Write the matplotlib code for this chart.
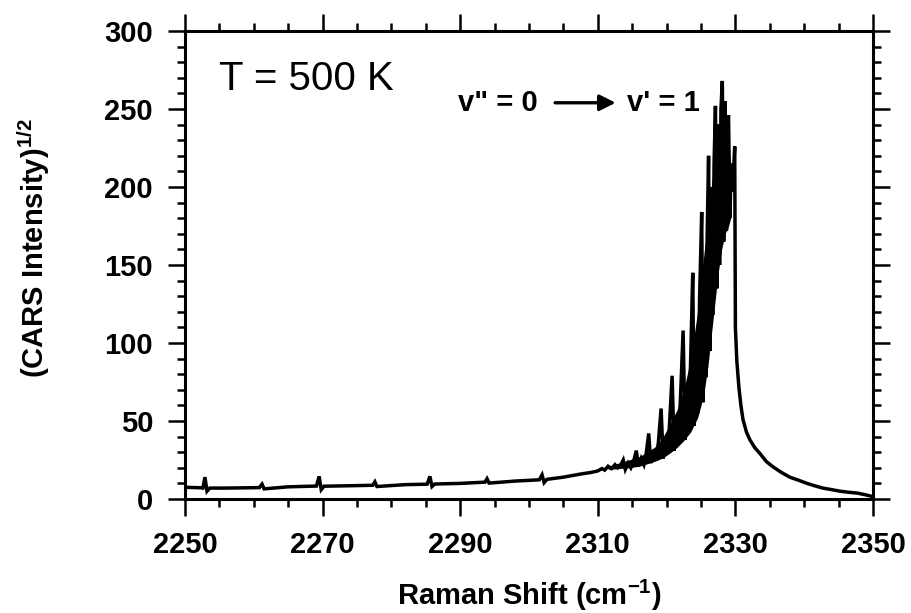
import matplotlib
matplotlib.use('Agg')
import matplotlib.pyplot as plt
from matplotlib.ticker import MultipleLocator

plt.rcParams['font.family'] = ['Liberation Sans', 'DejaVu Sans']
plt.rcParams['mathtext.fontset'] = 'custom'
plt.rcParams['mathtext.rm'] = 'Liberation Sans:bold'
plt.rcParams['mathtext.bf'] = 'Liberation Sans:bold'
plt.rcParams['mathtext.default'] = 'rm'

# spectrum (Raman shift in cm-1, sqrt CARS intensity)
shift = [
    2250.0, 2252.3, 2252.6, 2252.9, 2253.2, 2253.6, 2256.0, 2260.8, 2261.2, 2261.5,
    2265.0, 2269.1, 2269.5, 2269.8, 2270.2, 2274.0, 2277.3, 2277.6, 2277.9, 2282.0,
    2285.2, 2285.6, 2285.9, 2286.3, 2290.0, 2293.6, 2293.9, 2294.2, 2298.0, 2301.5,
    2301.9, 2302.2, 2302.6, 2305.0, 2307.5, 2309.0,
    2310.0, 2310.6, 2311.0, 2311.5, 2312.0, 2312.5, 2312.9, 2313.3, 2313.7, 2314.0,
    2314.4, 2314.8, 2315.2, 2315.6, 2315.9, 2316.3, 2316.7, 2317.0, 2317.4, 2317.7,
    2318.0, 2318.4, 2318.8, 2319.2, 2319.5, 2319.8, 2320.1, 2320.4, 2320.8, 2321.1,
    2321.4, 2321.7, 2322.0, 2322.4, 2322.7, 2322.9, 2323.2, 2323.5, 2323.8, 2324.0,
    2324.3, 2324.5, 2324.8, 2325.1, 2325.3, 2325.5, 2325.7, 2325.9, 2326.1, 2326.3,
    2326.5, 2326.7, 2326.9, 2327.1, 2327.3, 2327.5, 2327.7, 2327.9, 2328.1, 2328.3,
    2328.5, 2328.7, 2328.85, 2329.0, 2329.2, 2329.4, 2329.6, 2329.9,
    2330.0, 2330.2, 2330.5, 2330.8, 2331.1, 2331.6, 2332.1, 2332.8, 2333.6, 2334.5,
    2335.5, 2336.7, 2337.9, 2339.2, 2340.4, 2341.5, 2342.7, 2344.0, 2345.2, 2346.5,
    2347.7, 2349.0, 2350.0,
]
intensity = [
    7.5, 7.2, 7.0, 14.0, 5.0, 7.0, 7.0, 7.3, 9.5, 6.5,
    7.8, 8.3, 14.5, 6.0, 8.2, 8.5, 8.8, 11.0, 8.0, 9.2,
    9.5, 14.5, 8.0, 9.6, 10.0, 10.8, 13.0, 10.2, 11.5, 12.3,
    15.5, 10.5, 12.6, 14.0, 16.0, 17.0,
    18.0, 19.5, 18.5, 21.0, 19.5, 22.0, 20.0, 21.5, 25.0, 19.0,
    23.0, 20.0, 24.0, 31.0, 21.0, 26.0, 22.0, 28.0, 42.0, 23.0,
    30.0, 25.0, 36.0, 58.0, 26.0, 38.0, 29.0, 46.0, 79.0, 31.0,
    52.0, 35.0, 63.0, 108.0, 38.0, 72.0, 44.0, 90.0, 145.0, 47.0,
    105.0, 55.0, 130.0, 184.0, 62.0, 150.0, 78.0, 170.0, 220.0, 95.0,
    200.0, 118.0, 215.0, 252.0, 135.0, 240.0, 150.0, 250.0, 268.0, 165.0,
    255.0, 172.0, 240.0, 246.0, 180.0, 215.0, 197.0, 226.0,
    110.0, 89.0, 72.0, 60.0, 51.0, 43.0, 38.0, 33.0, 29.0, 24.0,
    20.5, 17.0, 14.0, 12.0, 10.0, 8.5, 7.0, 6.0, 5.0, 4.3,
    3.8, 2.6, 1.5,
]

# the unresolved mass of lines under the Q-branch peaks
band_shift = [2311.5, 2313.0, 2314.5, 2316.0, 2317.5, 2318.5, 2319.5, 2320.5, 2321.5,
              2322.5, 2323.5, 2324.5, 2325.0, 2325.5, 2326.0, 2326.5, 2327.0, 2327.5,
              2328.0, 2328.5, 2329.0, 2329.3]
band_low = [19.0, 19.5, 20.0, 21.0, 23.0, 24.5, 26.5, 29.5, 33.0,
            37.5, 43.0, 52.0, 60.0, 70.0, 85.0, 105.0, 125.0, 145.0,
            160.0, 170.0, 175.0, 180.0]
band_high = [21.0, 23.0, 25.0, 27.0, 31.0, 34.0, 40.0, 48.0, 57.0,
             70.0, 90.0, 120.0, 140.0, 160.0, 180.0, 200.0, 220.0, 235.0,
             240.0, 235.0, 225.0, 215.0]

x_ticks = [2250, 2270, 2290, 2310, 2330, 2350]
y_ticks = [0, 50, 100, 150, 200, 250, 300]

fig = plt.figure(figsize=(9.11, 6.13), dpi=100)
ax = fig.add_axes([185 / 911, 1 - 499 / 613, 688 / 911, 468 / 613])

ax.fill_between(band_shift, band_low, band_high, color='black', lw=0)
ax.plot(shift, intensity, color='black', lw=2.5, solid_joinstyle='miter')

ax.set_xlim(2250, 2350)
ax.set_ylim(0, 300)
ax.set_xticks(x_ticks)
ax.set_yticks(y_ticks)
ax.xaxis.set_minor_locator(MultipleLocator(5))
ax.yaxis.set_minor_locator(MultipleLocator(10))
ax.tick_params(which='both', direction='out', top=True, right=True,
               labeltop=False, labelright=False, width=1.8, colors='black')
ax.tick_params(which='major', length=12, labelsize=21, pad=11)
ax.tick_params(which='minor', length=6)
for lab in ax.get_xticklabels() + ax.get_yticklabels():
    lab.set_fontweight('bold')
for sp in ax.spines.values():
    sp.set_linewidth(2.2)

# annotations
ax.text(2254.9, 269, 'T = 500 K', fontsize=29, ha='left', va='center')
ax.text(2289.7, 254, 'v" = 0', fontsize=21, fontweight='bold', ha='left', va='center')
ax.annotate('', xy=(2312.6, 254), xytext=(2303.8, 254),
            arrowprops=dict(arrowstyle='-|>', color='black', lw=2.4,
                            mutation_scale=24, shrinkA=0, shrinkB=0))
ax.text(2314.2, 254, "v' = 1", fontsize=21, fontweight='bold', ha='left', va='center')

fig.text(34 / 911, 1 - 248 / 613, '(CARS Intensity)$^{1/2}$', rotation=90,
         fontsize=21, fontweight='bold', ha='center', va='center')
fig.text(529 / 911, 1 - 595 / 613, 'Raman Shift (cm$^{-1}$)',
         fontsize=21, fontweight='bold', ha='center', va='center')

fig.savefig('out.png', dpi=100)
